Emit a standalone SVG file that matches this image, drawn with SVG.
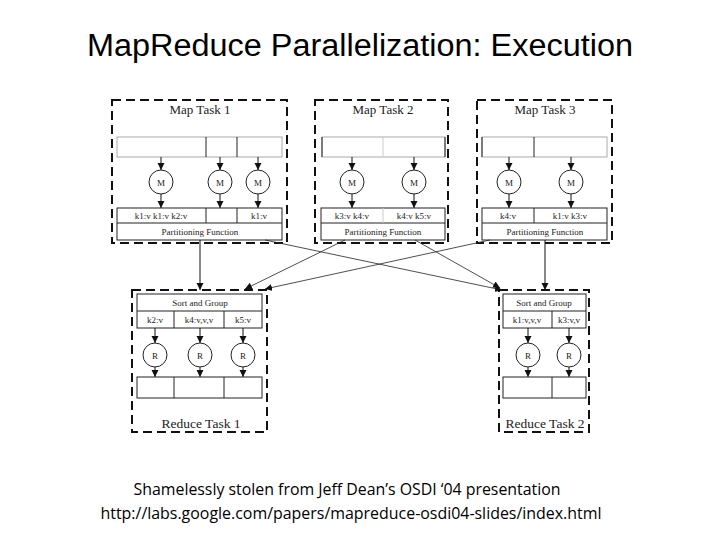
<svg xmlns="http://www.w3.org/2000/svg" width="720" height="540" viewBox="0 0 720 540">
<defs>
<style>
.dash{fill:none;stroke:#111;stroke-width:2;stroke-dasharray:9 5}
.box{fill:#fff;stroke:#222;stroke-width:1}
.inbox{fill:#fff;stroke:#aaa;stroke-width:1}
.div{stroke:#222;stroke-width:1}
.node{fill:#fff;stroke:#222;stroke-width:1}
.ar{stroke:#111;stroke-width:1;fill:none;marker-end:url(#ah)}
.x{stroke:#222;stroke-width:0.8;fill:none;marker-end:url(#ah)}
.t{font-family:"Liberation Serif",serif;fill:#222;text-anchor:middle}
.title{font-family:"Liberation Sans",sans-serif;fill:#000;text-anchor:middle}
.ft{font-family:"Open Sans","Liberation Sans",sans-serif;fill:#000;text-anchor:middle}
</style>
<marker id="ah" markerWidth="8" markerHeight="8" refX="7" refY="4" orient="auto" markerUnits="userSpaceOnUse">
<path d="M0,0.5 L7,4 L0,7.5 Z" fill="#111"/>
</marker>
</defs>
<rect width="720" height="540" fill="#fff"/>
<text class="title" x="360" y="56" font-size="31" textLength="546" lengthAdjust="spacingAndGlyphs">MapReduce Parallelization: Execution</text>

<g id="map1">
<rect class="dash" x="112" y="100" width="175" height="143"/>
<text class="t" x="200" y="114" font-size="13">Map Task 1</text>
<rect class="inbox" x="117" y="137" width="165" height="20"/>
<line class="div" x1="206" y1="137" x2="206" y2="157"/>
<line class="div" x1="237" y1="137" x2="237" y2="157"/>
<circle class="node" cx="161" cy="182" r="12"/><text class="t" x="161" y="186" font-size="9">M</text>
<circle class="node" cx="220" cy="182" r="12"/><text class="t" x="220" y="186" font-size="9">M</text>
<circle class="node" cx="258" cy="182" r="12"/><text class="t" x="258" y="186" font-size="9">M</text>
<line class="ar" x1="161" y1="157" x2="161" y2="170"/>
<line class="ar" x1="220" y1="157" x2="220" y2="170"/>
<line class="ar" x1="258" y1="157" x2="258" y2="170"/>
<line class="ar" x1="161" y1="194" x2="161" y2="208"/>
<line class="ar" x1="220" y1="194" x2="220" y2="208"/>
<line class="ar" x1="258" y1="194" x2="258" y2="208"/>
<rect class="box" x="117" y="208" width="165" height="32"/>
<line class="div" x1="117" y1="223" x2="282" y2="223"/>
<line class="div" x1="206" y1="208" x2="206" y2="223"/>
<line class="div" x1="237" y1="208" x2="237" y2="223"/>
<text class="t" x="161" y="219" font-size="9">k1:v k1:v k2:v</text>
<text class="t" x="259" y="219" font-size="9">k1:v</text>
<text class="t" x="200" y="235" font-size="9">Partitioning Function</text>
</g>

<g id="map2">
<rect class="dash" x="315" y="100" width="133" height="143"/>
<text class="t" x="383" y="114" font-size="13">Map Task 2</text>
<rect class="inbox" x="322" y="137" width="123" height="20"/>
<line class="div" x1="383" y1="137" x2="383" y2="157" stroke="#ccc" style="stroke:#ccc"/>
<line class="div" x1="322" y1="137" x2="322" y2="157"/>
<line class="div" x1="445" y1="137" x2="445" y2="157"/>
<circle class="node" cx="352" cy="182" r="12"/><text class="t" x="352" y="186" font-size="9">M</text>
<circle class="node" cx="414" cy="182" r="12"/><text class="t" x="414" y="186" font-size="9">M</text>
<line class="ar" x1="352" y1="157" x2="352" y2="170"/>
<line class="ar" x1="414" y1="157" x2="414" y2="170"/>
<line class="ar" x1="352" y1="194" x2="352" y2="208"/>
<line class="ar" x1="414" y1="194" x2="414" y2="208"/>
<rect class="box" x="321" y="208" width="124" height="32"/>
<line class="div" x1="321" y1="223" x2="445" y2="223"/>
<line class="div" x1="383" y1="208" x2="383" y2="223" style="stroke:#ccc"/>
<text class="t" x="352" y="219" font-size="9">k3:v k4:v</text>
<text class="t" x="414" y="219" font-size="9">k4:v k5:v</text>
<text class="t" x="383" y="235" font-size="9">Partitioning Function</text>
</g>

<g id="map3">
<rect class="dash" x="477" y="100" width="135" height="143"/>
<text class="t" x="545" y="114" font-size="13">Map Task 3</text>
<rect class="inbox" x="482" y="137" width="125" height="20"/>
<line class="div" x1="534" y1="137" x2="534" y2="157"/>
<line class="div" x1="482" y1="137" x2="482" y2="157"/>
<circle class="node" cx="509" cy="182" r="12"/><text class="t" x="509" y="186" font-size="9">M</text>
<circle class="node" cx="571" cy="182" r="12"/><text class="t" x="571" y="186" font-size="9">M</text>
<line class="ar" x1="509" y1="157" x2="509" y2="170"/>
<line class="ar" x1="571" y1="157" x2="571" y2="170"/>
<line class="ar" x1="509" y1="194" x2="509" y2="208"/>
<line class="ar" x1="571" y1="194" x2="571" y2="208"/>
<rect class="box" x="482" y="208" width="125" height="32"/>
<line class="div" x1="482" y1="223" x2="607" y2="223"/>
<line class="div" x1="534" y1="208" x2="534" y2="223"/>
<text class="t" x="508" y="219" font-size="9">k4:v</text>
<text class="t" x="570" y="219" font-size="9">k1:v k3:v</text>
<text class="t" x="545" y="235" font-size="9">Partitioning Function</text>
</g>

<g id="reduce1">
<rect class="dash" x="132" y="290" width="135" height="142"/>
<rect class="box" x="137" y="294" width="125" height="34"/>
<line class="div" x1="137" y1="311" x2="262" y2="311"/>
<line class="div" x1="174" y1="311" x2="174" y2="328"/>
<line class="div" x1="224" y1="311" x2="224" y2="328"/>
<text class="t" x="200" y="306" font-size="9">Sort and Group</text>
<text class="t" x="155" y="323" font-size="9">k2:v</text>
<text class="t" x="199" y="323" font-size="9">k4:v,v,v</text>
<text class="t" x="243" y="323" font-size="9">k5:v</text>
<circle class="node" cx="155" cy="355" r="12"/><text class="t" x="155" y="359" font-size="9">R</text>
<circle class="node" cx="200" cy="355" r="12"/><text class="t" x="200" y="359" font-size="9">R</text>
<circle class="node" cx="243" cy="355" r="12"/><text class="t" x="243" y="359" font-size="9">R</text>
<line class="ar" x1="155" y1="328" x2="155" y2="343"/>
<line class="ar" x1="200" y1="328" x2="200" y2="343"/>
<line class="ar" x1="243" y1="328" x2="243" y2="343"/>
<line class="ar" x1="155" y1="367" x2="155" y2="377"/>
<line class="ar" x1="200" y1="367" x2="200" y2="377"/>
<line class="ar" x1="243" y1="367" x2="243" y2="377"/>
<rect class="box" x="137" y="377" width="125" height="21"/>
<line class="div" x1="174" y1="377" x2="174" y2="398"/>
<line class="div" x1="224" y1="377" x2="224" y2="398"/>
<text class="t" x="201" y="428" font-size="13.5">Reduce Task 1</text>
</g>

<g id="reduce2">
<rect class="dash" x="499" y="290" width="90" height="142"/>
<rect class="box" x="503" y="294" width="83" height="34"/>
<line class="div" x1="503" y1="311" x2="586" y2="311"/>
<line class="div" x1="552" y1="311" x2="552" y2="328"/>
<text class="t" x="544" y="306" font-size="9">Sort and Group</text>
<text class="t" x="527" y="323" font-size="9">k1:v,v,v</text>
<text class="t" x="569" y="323" font-size="9">k3:v,v</text>
<circle class="node" cx="528" cy="355" r="12"/><text class="t" x="528" y="359" font-size="9">R</text>
<circle class="node" cx="569" cy="355" r="12"/><text class="t" x="569" y="359" font-size="9">R</text>
<line class="ar" x1="528" y1="328" x2="528" y2="343"/>
<line class="ar" x1="569" y1="328" x2="569" y2="343"/>
<line class="ar" x1="528" y1="367" x2="528" y2="377"/>
<line class="ar" x1="569" y1="367" x2="569" y2="377"/>
<rect class="box" x="503" y="377" width="83" height="21"/>
<line class="div" x1="552" y1="377" x2="552" y2="398"/>
<text class="t" x="545" y="428" font-size="13.5">Reduce Task 2</text>
</g>

<g id="connectors">
<line class="ar" x1="200" y1="240" x2="200" y2="290"/>
<line class="ar" x1="545" y1="240" x2="545" y2="290"/>
<line class="x" x1="265" y1="240" x2="502" y2="290"/>
<line class="x" x1="345" y1="240" x2="245" y2="289"/>
<line class="x" x1="415" y1="240" x2="500" y2="288"/>
<line class="x" x1="490" y1="240" x2="265" y2="289"/>
</g>

<text class="ft" x="347" y="495" font-size="16" textLength="427" lengthAdjust="spacingAndGlyphs">Shamelessly stolen from Jeff Dean’s OSDI ‘04 presentation</text>
<text class="ft" x="351" y="519" font-size="16" textLength="501" lengthAdjust="spacingAndGlyphs">http://labs.google.com/papers/mapreduce-osdi04-slides/index.html</text>
</svg>
